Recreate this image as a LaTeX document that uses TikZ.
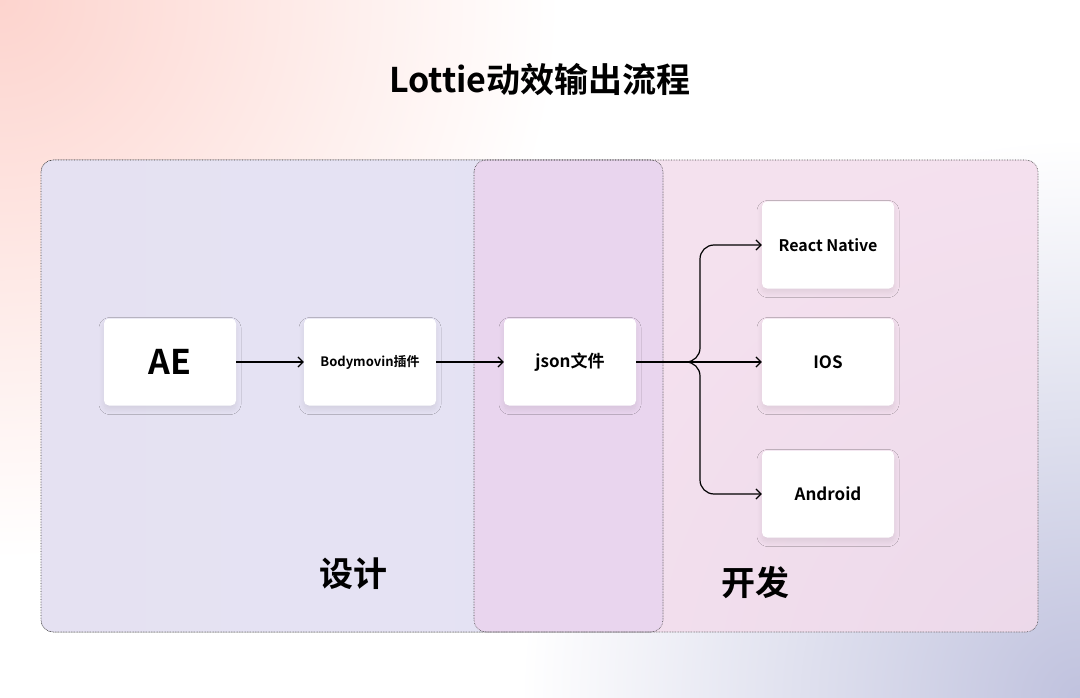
\documentclass[tikz,border=0pt]{standalone}
\usepackage{fontspec}
\setmainfont{Noto Sans CJK SC}[BoldFont={Noto Sans CJK SC Bold}]
\usetikzlibrary{arrows.meta,shadows.blur}
\definecolor{lav}{HTML}{E4E2F3}
\definecolor{pinkr}{HTML}{F3DCEC}
\definecolor{ovl}{HTML}{E9D5EE}
\tikzset{
  card/.style={fill=white,rounded corners=5pt,minimum width=132pt,minimum height=87pt,inner sep=0pt,blur shadow={shadow blur steps=10,shadow blur radius=5pt,shadow xshift=0pt,shadow yshift=-4pt,shadow opacity=8}},
  region/.style={draw=black!75,densely dotted,line width=0.6pt,rounded corners=12pt},
  flow/.style={-{Straight Barb[length=5pt,width=10pt]},line width=1.2pt},
}
\begin{document}
\begin{tikzpicture}[x=1pt,y=-1pt]
\useasboundingbox (0,0) rectangle (1080,698);
\fill[white] (0,0) rectangle (1080,698);
\begin{scope}
\clip (0,0) rectangle (1080,698);
\shade[inner color={rgb,255:red,253;green,212;blue,206},outer color=white] (-560,-560) rectangle (560,560);
\begin{scope}[blend mode=multiply]
\shade[inner color={rgb,255:red,192;green,194;blue,222},outer color=white] (520,138) rectangle (1640,1258);
\end{scope}
\end{scope}
% regions
\fill[rounded corners=12pt,left color=lav!90!pinkr,right color=lav] (41,160) rectangle (663,632);
\fill[pinkr,opacity=0.85,rounded corners=12pt] (474,160) rectangle (1038,632);
\fill[ovl,rounded corners=12pt] (474,160) rectangle (663,632);
\draw[region] (41,160) rectangle (663,632);
\draw[region] (474,160) rectangle (1038,632);
% title
\node[font=\bfseries\fontsize{34}{40}\selectfont] (title) at (540,80) {Lottie动效输出流程};
\node[font=\bfseries\fontsize{34}{40}\selectfont] (sj) at (353,574) {设计};
\node[font=\bfseries\fontsize{34}{40}\selectfont] (kf) at (755,583) {开发};
% cards
\node[card,font=\bfseries\fontsize{34}{40}\selectfont] (ae) at (170,362) {AE};
\node[card,font=\bfseries\fontsize{13}{16}\selectfont] (bm) at (370,362) {Bodymovin插件};
\node[card,font=\bfseries\fontsize{17}{20}\selectfont] (js) at (570,362) {json文件};
\node[card,font=\bfseries\fontsize{16}{20}\selectfont] (rn) at (828,245) {React Native};
\node[card,font=\bfseries\fontsize{17}{20}\selectfont] (ios) at (828,362) {IOS};
\node[card,font=\bfseries\fontsize{17}{20}\selectfont] (and) at (828,494) {Android};
% arrows
\draw[flow] (ae) -- (bm);
\draw[flow] (bm) -- (js);
\coordinate (br) at (700,362);
\draw[flow] (js) -- (ios);
\draw[flow,rounded corners=14pt] (js.east) -- (br) -- (br |- rn) -- (rn.west);
\draw[flow,rounded corners=14pt] (js.east) -- (br) -- (br |- and) -- (and.west);
\end{tikzpicture}
\end{document}
